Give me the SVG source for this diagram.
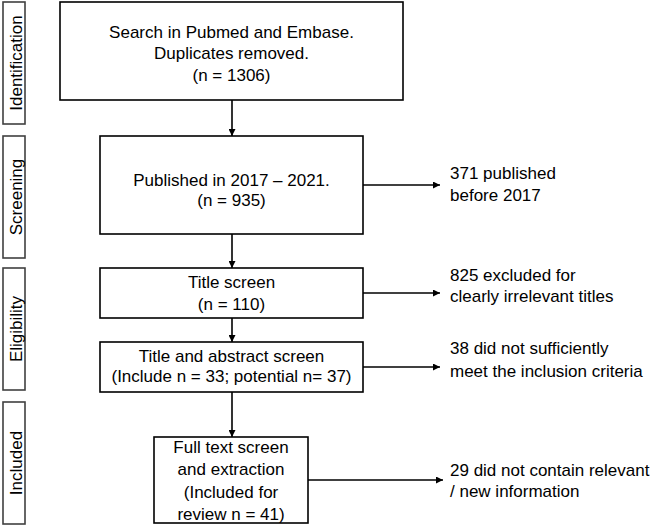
<svg xmlns="http://www.w3.org/2000/svg" width="658" height="528" viewBox="0 0 658 528">
<style>
.box{fill:#fff;stroke:#000;stroke-width:1.6}
.side{fill:#fff;stroke:#404040;stroke-width:1.6}
text{font-family:"Liberation Sans",Arial,sans-serif;font-size:17px;fill:#000}
.c{text-anchor:middle}
.conn line{stroke:#000;stroke-width:1.6}
</style>
<defs>
<marker id="ah" viewBox="0 0 10 10" refX="10" refY="5" markerWidth="7" markerHeight="7" markerUnits="userSpaceOnUse" orient="auto">
<path d="M0,0 L10,5 L0,10 z" fill="#000"/>
</marker>
</defs>
<rect width="658" height="528" fill="#fff"/>
<g id="phase-identification">
<rect class="side" x="3" y="2" width="22" height="122"/>
<text class="c" transform="translate(22,63) rotate(-90)">Identification</text>
</g>
<g id="phase-screening">
<rect class="side" x="3" y="136" width="22" height="122"/>
<text class="c" transform="translate(22,197) rotate(-90)">Screening</text>
</g>
<g id="phase-eligibility">
<rect class="side" x="3" y="268" width="22" height="122"/>
<text class="c" transform="translate(22,329) rotate(-90)">Eligibility</text>
</g>
<g id="phase-included">
<rect class="side" x="3" y="402" width="22" height="122"/>
<text class="c" transform="translate(22,463) rotate(-90)">Included</text>
</g>
<g id="n1">
<rect class="box" x="60" y="2" width="343" height="98"/>
<text class="c" x="231.5" y="38">Search in Pubmed and Embase.</text>
<text class="c" x="231.5" y="59">Duplicates removed.</text>
<text class="c" x="231.5" y="81">(n = 1306)</text>
</g>
<g id="n2">
<rect class="box" x="100" y="136" width="263" height="98"/>
<text class="c" x="231.5" y="186">Published in 2017 – 2021.</text>
<text class="c" x="231.5" y="206">(n = 935)</text>
</g>
<g id="n3">
<rect class="box" x="100" y="268" width="263" height="50"/>
<text class="c" x="231.5" y="288">Title screen</text>
<text class="c" x="231.5" y="310">(n = 110)</text>
</g>
<g id="n4">
<rect class="box" x="100" y="342" width="263" height="50"/>
<text class="c" x="231.5" y="362">Title and abstract screen</text>
<text class="c" x="231.5" y="382">(Include n = 33; potential n= 37)</text>
</g>
<g id="n5">
<rect class="box" x="154" y="437" width="154" height="86"/>
<text class="c" x="231" y="453">Full text screen</text>
<text class="c" x="231" y="475">and extraction</text>
<text class="c" x="231" y="498">(Included for</text>
<text class="c" x="231" y="520">review n = 41)</text>
</g>
<g id="x1">
<text x="450" y="179">371 published</text>
<text x="450" y="201">before 2017</text>
</g>
<g id="x2">
<text x="450" y="281">825 excluded for</text>
<text x="450" y="302">clearly irrelevant titles</text>
</g>
<g id="x3">
<text x="450" y="354">38 did not sufficiently</text>
<text x="450" y="377">meet the inclusion criteria</text>
</g>
<g id="x4">
<text x="450" y="476">29 did not contain relevant</text>
<text x="450" y="497">/ new information</text>
</g>
<g class="conn" id="connectors">
<line x1="232" y1="100" x2="232" y2="136" marker-end="url(#ah)"/>
<line x1="232" y1="234" x2="232" y2="268" marker-end="url(#ah)"/>
<line x1="232" y1="318" x2="232" y2="342" marker-end="url(#ah)"/>
<line x1="232" y1="392" x2="232" y2="437" marker-end="url(#ah)"/>
<line x1="363" y1="185" x2="440" y2="185" marker-end="url(#ah)"/>
<line x1="363" y1="293" x2="440" y2="293" marker-end="url(#ah)"/>
<line x1="363" y1="367" x2="440" y2="367" marker-end="url(#ah)"/>
<line x1="308" y1="480" x2="443" y2="480" marker-end="url(#ah)"/>
</g>
</svg>
